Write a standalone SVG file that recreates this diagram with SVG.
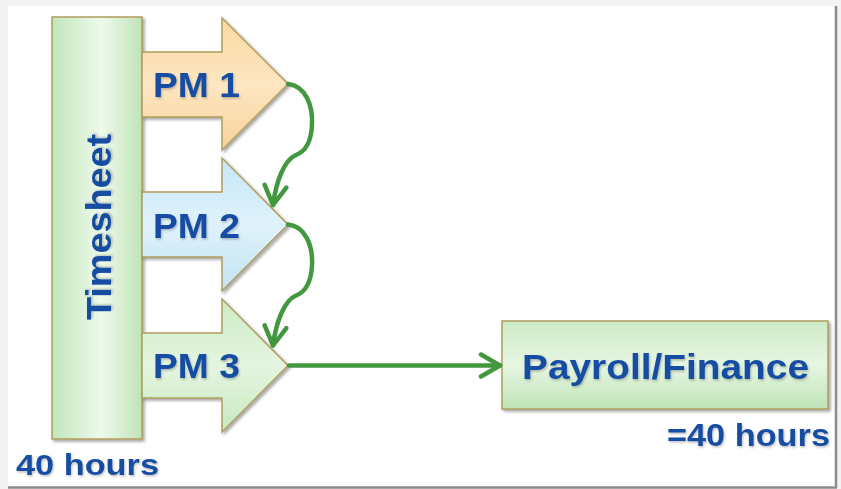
<svg xmlns="http://www.w3.org/2000/svg" width="841" height="489" viewBox="0 0 841 489">
  <defs>
    <style>
      .lbl { font-family: "Liberation Sans", Arial, sans-serif; font-weight: bold; fill: #174ea3; }
      .conn { fill: none; stroke: #42983f; stroke-width: 4.5; stroke-linecap: round; }
      .shape { stroke: #b09d5e; stroke-width: 1.5; }
    </style>
    <linearGradient id="gTime" x1="0" y1="0" x2="1" y2="0">
      <stop offset="0" stop-color="#c2e5bb"/>
      <stop offset="0.55" stop-color="#eefaec"/>
      <stop offset="1" stop-color="#c0e3b8"/>
    </linearGradient>
    <linearGradient id="gPM1" x1="0" y1="0" x2="0" y2="1">
      <stop offset="0" stop-color="#fbd9a0"/>
      <stop offset="0.5" stop-color="#fde6c2"/>
      <stop offset="1" stop-color="#f8d39a"/>
    </linearGradient>
    <linearGradient id="gPM2" x1="0" y1="0" x2="0" y2="1">
      <stop offset="0" stop-color="#c6e6f6"/>
      <stop offset="0.5" stop-color="#dff2fb"/>
      <stop offset="1" stop-color="#c3e3f4"/>
    </linearGradient>
    <linearGradient id="gPM3" x1="0" y1="0" x2="0" y2="1">
      <stop offset="0" stop-color="#cdebc6"/>
      <stop offset="0.5" stop-color="#e4f5e0"/>
      <stop offset="1" stop-color="#c8e8c1"/>
    </linearGradient>
    <linearGradient id="gPay" x1="0" y1="0" x2="0" y2="1">
      <stop offset="0" stop-color="#cdebc6"/>
      <stop offset="0.5" stop-color="#e6f6e2"/>
      <stop offset="1" stop-color="#bfe4b7"/>
    </linearGradient>
    <filter id="sh" x="-10%" y="-10%" width="130%" height="130%">
      <feDropShadow dx="2" dy="2" stdDeviation="1.5" flood-color="#000" flood-opacity="0.35"/>
    </filter>
    <filter id="tsh" x="-5%" y="-20%" width="115%" height="150%">
      <feDropShadow dx="1" dy="1.5" stdDeviation="1" flood-color="#000" flood-opacity="0.25"/>
    </filter>
    <marker id="chev" markerUnits="userSpaceOnUse" viewBox="0 0 26 28" refX="22" refY="14" markerWidth="26" markerHeight="28" orient="auto">
      <path d="M3,3 L22,14 L3,25" fill="none" stroke="#42983f" stroke-width="4.5" stroke-linecap="round" stroke-linejoin="round"/>
    </marker>
  </defs>

  <!-- slide background -->
  <rect x="0" y="0" width="841" height="489" fill="#f3f3f3"/>
  <rect x="8" y="6" width="828" height="481" fill="#ffffff"/>
  <line x1="836" y1="6" x2="836" y2="488" stroke="#8c8c8c" stroke-width="2.5"/>
  <line x1="8" y1="487.5" x2="837" y2="487.5" stroke="#8c8c8c" stroke-width="2.5"/>

  <g id="timesheet">
    <rect class="shape" x="52" y="17" width="90" height="422" fill="url(#gTime)" filter="url(#sh)"/>
    <text class="lbl" font-size="35" transform="translate(111,320) rotate(-90)" x="0" y="0" textLength="186" lengthAdjust="spacingAndGlyphs" filter="url(#tsh)">Timesheet</text>
  </g>

  <g id="pm1">
    <polygon class="shape" points="142,52 222,52 222,18 288,84 222,150 222,117 142,117" fill="url(#gPM1)" filter="url(#sh)"/>
    <text class="lbl" font-size="35" x="153" y="97" textLength="87" lengthAdjust="spacingAndGlyphs" filter="url(#tsh)">PM 1</text>
  </g>

  <g id="pm2">
    <polygon class="shape" points="142,192 222,192 222,158 288,224.5 222,291 222,257 142,257" fill="url(#gPM2)" filter="url(#sh)"/>
    <text class="lbl" font-size="35" x="153" y="237.5" textLength="87" lengthAdjust="spacingAndGlyphs" filter="url(#tsh)">PM 2</text>
  </g>

  <g id="pm3">
    <polygon class="shape" points="142,333 222,333 222,299 288,365.5 222,432 222,398 142,398" fill="url(#gPM3)" filter="url(#sh)"/>
    <text class="lbl" font-size="35" x="153" y="378" textLength="87" lengthAdjust="spacingAndGlyphs" filter="url(#tsh)">PM 3</text>
  </g>

  <g id="payroll">
    <rect class="shape" x="502" y="321" width="326" height="88" fill="url(#gPay)" filter="url(#sh)"/>
    <text class="lbl" font-size="35" x="522" y="379" textLength="287" lengthAdjust="spacingAndGlyphs" filter="url(#tsh)">Payroll/Finance</text>
  </g>

  <g id="labels">
    <text class="lbl" font-size="31" x="667" y="446" textLength="163" lengthAdjust="spacingAndGlyphs" filter="url(#tsh)">=40 hours</text>
    <text class="lbl" font-size="30" x="16" y="475" textLength="143" lengthAdjust="spacingAndGlyphs" filter="url(#tsh)">40 hours</text>
  </g>

  <g id="connectors">
    <path class="conn" d="M288,84 C306,86 313,106 312,125 C311,144 304,152 296,155 C284,160 276,182 273,205" marker-end="url(#chev)"/>
    <path class="conn" d="M288,224.5 C306,226.5 313,246.5 312,265.5 C311,284.5 304,292.5 296,295.5 C284,300.5 276,322.5 273,345.5" marker-end="url(#chev)"/>
    <path class="conn" d="M289,365.5 L500,365.5" marker-end="url(#chev)"/>
  </g>
</svg>
